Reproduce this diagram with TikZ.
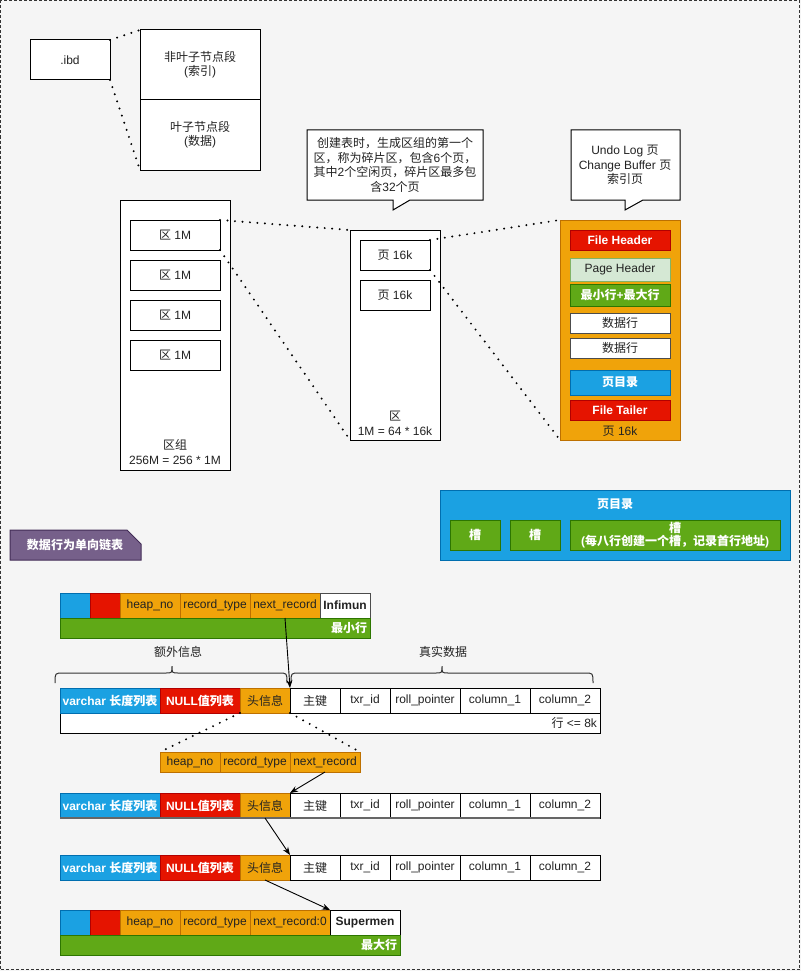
\documentclass[tikz,border=0pt]{standalone}
\usepackage{fontspec}
\setmainfont{Liberation Sans}
\newfontfamily\latinfont{Liberation Sans}
\newfontfamily\cjkfont{Noto Sans CJK SC}
\XeTeXinterchartokenstate=1
\chardef\CJKcls=7
\newcount\cjkc
\def\setcjkrange#1#2{\cjkc=#1\relax\loop\XeTeXcharclass\cjkc=\CJKcls\relax\ifnum\cjkc<#2\relax\advance\cjkc by 1\relax\repeat}
\setcjkrange{"3000}{"303F}
\setcjkrange{"4E00}{"9FFF}
\setcjkrange{"FF00}{"FFEF}
\XeTeXinterchartoks 0 \CJKcls = {\cjkfont}
\XeTeXinterchartoks 4095 \CJKcls = {\cjkfont}
\XeTeXinterchartoks \CJKcls 0 = {\latinfont}
\XeTeXinterchartoks \CJKcls 4095 = {\latinfont}
\usetikzlibrary{arrows.meta}
\definecolor{bgc}{HTML}{F5F5F5}
\definecolor{blueF}{HTML}{1BA1E2}\definecolor{blueS}{HTML}{006EAF}
\definecolor{redF}{HTML}{E51400}\definecolor{redS}{HTML}{B20000}
\definecolor{oraF}{HTML}{F0A30A}\definecolor{oraS}{HTML}{BD7000}
\definecolor{grnF}{HTML}{60A917}\definecolor{grnS}{HTML}{2D7600}
\definecolor{lgF}{HTML}{D5E8D4}\definecolor{lgS}{HTML}{82B366}
\definecolor{purF}{HTML}{76608A}\definecolor{purS}{HTML}{432D57}
\definecolor{txt}{HTML}{222222}
\newcommand\Cell[7]{\node[#6,anchor=north west,minimum width={(#4-#2)*1pt},minimum height={(#5-#3)*1pt}] (#1) at (#2,#3) {#7};}
\begin{document}
\begin{tikzpicture}[x=1pt,y=-1pt,line width=1pt,
  font=\fontsize{12}{14}\selectfont,
  every node/.style={inner sep=0pt,outer sep=0pt,text=txt,align=center},
  box/.style={draw=black,fill=white,rectangle},
  bluec/.style={draw=blueS,fill=blueF,text=white,font=\fontsize{12}{14}\selectfont\bfseries},
  redc/.style={draw=redS,fill=redF,text=white,font=\fontsize{12}{14}\selectfont\bfseries},
  orac/.style={draw=oraS,fill=oraF},
  grnc/.style={draw=grnS,fill=grnF,text=white,font=\fontsize{12}{14}\selectfont\bfseries},
  lgc/.style={draw=lgS,fill=lgF},
  dotline/.style={line width=2.2pt,dash pattern=on 0pt off 7.5pt,line cap=round},
  arr/.style={line width=0.9pt,-{Stealth[length=8pt,width=6pt]}}]
\useasboundingbox (0,0) rectangle (801,971);
\fill[bgc] (0,0) rectangle (801,971);
\draw[black!80,dash pattern=on 3pt off 2pt] (0.5,0.5) rectangle (799.5,969.5);

% ibd and segments
\Cell{ibd}{30}{40}{110}{80}{box}{.ibd}
\Cell{seg1}{140}{30}{260}{100}{box}{非叶子节点段\\(索引)}
\Cell{seg2}{140}{100}{260}{170}{box}{叶子节点段\\(数据)}
\draw[dotline] (ibd.north east) -- (seg1.north west);
\draw[dotline] (ibd.south east) -- (seg2.south west);

% extent group
\Cell{grp}{120}{200}{230}{470}{box}{}
\Cell{e1}{130}{220}{220}{250}{box}{区 1M}
\Cell{e2}{130}{260}{220}{290}{box}{区 1M}
\Cell{e3}{130}{300}{220}{330}{box}{区 1M}
\Cell{e4}{130}{340}{220}{370}{box}{区 1M}
\node[font=\fontsize{12}{15}\selectfont] (grplbl) at (175,452) {区组\\256M = 256 * 1M};

% extent
\Cell{ext}{350}{230}{440}{440}{box}{}
\Cell{p1}{360}{240}{430}{270}{box}{页 16k}
\Cell{p2}{360}{280}{430}{310}{box}{页 16k}
\node[font=\fontsize{12}{15}\selectfont] (extlbl) at (395,423) {区\\1M = 64 * 16k};

% callout 1
\draw[fill=white] (307,130) -- (483,130) -- (483,200) -- (410,200) -- (393,210) -- (393,200) -- (307,200) -- cycle;
\node[font=\fontsize{12}{14.7}\selectfont] (call1) at (395,165) {创建表时，生成区组的第一个\\区，称为碎片区，包含6个页，\\其中2个空闲页，碎片区最多包\\含32个页};

% page
\Cell{pg}{560}{220}{680}{440}{orac}{}
\Cell{fh}{570}{230}{670}{250}{redc}{File Header}
\Cell{ph}{570}{258}{670}{281}{lgc}{Page Header}
\Cell{mm}{570}{284}{670}{306}{grnc}{最小行+最大行}
\Cell{d1}{570}{313}{670}{333}{box,draw=black!70}{数据行}
\Cell{d2}{570}{338}{670}{358}{box,draw=black!70}{数据行}
\Cell{pd}{570}{370}{670}{395}{bluec}{页目录}
\Cell{ft}{570}{400}{670}{420}{redc}{File Tailer}
\node (pglbl) at (620,431) {页 16k};

% callout 2
\draw[fill=white] (571,130) -- (680,130) -- (680,200) -- (643,200) -- (625,210) -- (625,200) -- (571,200) -- cycle;
\node[font=\fontsize{12}{14.5}\selectfont] (call2) at (625,165) {Undo Log 页\\Change Buffer 页\\索引页};

\draw[dotline] (e1.north east) -- (ext.north west);
\draw[dotline] (e1.south east) -- (ext.south west);
\draw[dotline] (p1.north east) -- (pg.north west);
\draw[dotline] (p1.south east) -- (pg.south west);

% page directory panel
\Cell{dir}{440}{490}{790}{560}{bluec}{}
\node[text=white,font=\fontsize{12}{14}\selectfont\bfseries] (dirlbl) at (615,504) {页目录};
\Cell{s1}{450}{520}{500}{550}{grnc}{槽}
\Cell{s2}{510}{520}{560}{550}{grnc}{槽}
\Cell{s3}{570}{520}{780}{550}{grnc,font=\fontsize{12}{13.5}\selectfont\bfseries}{槽\\(每八行创建一个槽，记录首行地址)}

% note
\draw[draw=purS,fill=purF] (10,530) -- (127,530) -- (141,544) -- (141,560) -- (10,560) -- cycle;
\node[text=white,font=\fontsize{12}{14}\selectfont\bfseries] (note) at (75,545) {数据行为单向链表};

% infimum row
\Cell{ib}{60}{593}{90}{618}{bluec}{}
\Cell{ir}{90}{593}{120}{618}{redc}{}
\Cell{infHeap}{120}{593}{180}{618}{orac}{heap\_no}
\Cell{infType}{180}{593}{250}{618}{orac}{record\_type}
\Cell{infNext}{250}{593}{320}{618}{orac}{next\_record}
\Cell{infText}{320}{593}{370}{618}{box,draw=black!70,font=\fontsize{12}{14}\selectfont\bfseries}{Infimun}
\Cell{infBar}{60}{618}{370}{638}{grnc}{}
\node[anchor=east,text=white,font=\fontsize{12}{14}\selectfont\bfseries] (infLbl) at ([xshift=-3pt]infBar.east) {最小行};

% braces
\draw[black!80] (55,683) .. controls (55,673) .. (63,673) -- (166,673) .. controls (172,673) .. (172,666) .. controls (172,673) .. (178,673) -- (279,673) .. controls (287,673) .. (287,683);
\node (b1lbl) at (178,652) {额外信息};
\draw[black!80] (291,683) .. controls (291,673) .. (299,673) -- (436,673) .. controls (442,673) .. (442,666) .. controls (442,673) .. (448,673) -- (585,673) .. controls (593,673) .. (593,683);
\node (b2lbl) at (443,652) {真实数据};

% row 1
\Cell{r1box}{60}{688}{600}{733}{box}{}
\node[anchor=east] (r1lbl) at (597,723) {行 <= 8k};
\Cell{r1var}{60}{688}{160}{713}{bluec}{varchar 长度列表}
\Cell{r1null}{160}{688}{240}{713}{redc}{NULL值列表}
\Cell{r1head}{240}{688}{290}{713}{orac}{头信息}
\Cell{r1key}{290}{688}{340}{713}{box}{主键}
\Cell{r1txr}{340}{688}{390}{713}{box}{txr\_id}
\Cell{r1roll}{390}{688}{460}{713}{box}{roll\_pointer}
\Cell{r1c1}{460}{688}{530}{713}{box}{column\_1}
\Cell{r1c2}{530}{688}{600}{713}{box}{column\_2}

% header expansion
\Cell{hHeap}{160}{752}{220}{772}{orac}{heap\_no}
\Cell{hType}{220}{752}{290}{772}{orac}{record\_type}
\Cell{hNext}{290}{752}{360}{772}{orac}{next\_record}
\draw[dotline] (r1head.south west) -- (hHeap.north west);
\draw[dotline] (r1head.south east) -- (hNext.north east);

% row 2
\Cell{r2var}{60}{793}{160}{818}{bluec}{varchar 长度列表}
\Cell{r2null}{160}{793}{240}{818}{redc}{NULL值列表}
\Cell{r2head}{240}{793}{290}{818}{orac}{头信息}
\Cell{r2key}{290}{793}{340}{818}{box}{主键}
\Cell{r2txr}{340}{793}{390}{818}{box}{txr\_id}
\Cell{r2roll}{390}{793}{460}{818}{box}{roll\_pointer}
\Cell{r2c1}{460}{793}{530}{818}{box}{column\_1}
\Cell{r2c2}{530}{793}{600}{818}{box}{column\_2}
\draw[black!60,line width=1.6pt] (r2var.south west) -- (r2c2.south east);

% row 3
\Cell{r3var}{60}{855}{160}{880}{bluec}{varchar 长度列表}
\Cell{r3null}{160}{855}{240}{880}{redc}{NULL值列表}
\Cell{r3head}{240}{855}{290}{880}{orac}{头信息}
\Cell{r3key}{290}{855}{340}{880}{box}{主键}
\Cell{r3txr}{340}{855}{390}{880}{box}{txr\_id}
\Cell{r3roll}{390}{855}{460}{880}{box}{roll\_pointer}
\Cell{r3c1}{460}{855}{530}{880}{box}{column\_1}
\Cell{r3c2}{530}{855}{600}{880}{box}{column\_2}

% supremum row
\Cell{sb}{60}{910}{90}{935}{bluec}{}
\Cell{sr}{90}{910}{120}{935}{redc}{}
\Cell{supHeap}{120}{910}{180}{935}{orac}{heap\_no}
\Cell{supType}{180}{910}{250}{935}{orac}{record\_type}
\Cell{supNext}{250}{910}{330}{935}{orac}{next\_record:0}
\Cell{supText}{330}{910}{400}{935}{box,font=\fontsize{12}{14}\selectfont\bfseries}{Supermen}
\Cell{supBar}{60}{935}{400}{955}{grnc}{}
\node[anchor=east,text=white,font=\fontsize{12}{14}\selectfont\bfseries] (supLbl) at ([xshift=-3pt]supBar.east) {最大行};

% arrows
\draw[arr] (infNext.south) -- (r1key.north west);
\draw[arr] (hNext.south) -- (r2key.north west);
\draw[arr] (r2head.south) -- (r3key.north west);
\draw[arr] (r3head.south) -- (supText.north west);
\end{tikzpicture}
\end{document}
